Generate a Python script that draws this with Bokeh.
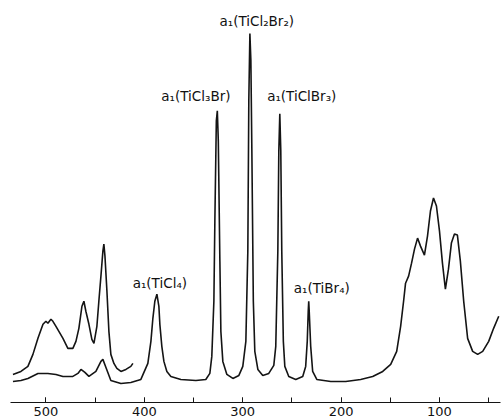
from bokeh.plotting import figure
from bokeh.models import Range1d, FixedTicker, ColumnDataSource
from bokeh.core.properties import value
from bokeh.embed import file_html
from bokeh.resources import INLINE

# Main Raman trace (wavenumber cm^-1, relative intensity)
main_wn = [533.5, 525.4, 518.3, 508.1, 498.0, 489.8, 482.7, 472.6, 467.5, 464.4,
           460.4, 456.3, 449.2, 444.1, 442.1, 439.0, 434.0, 423.8, 413.7, 403.5,
           396.4, 393.3, 391.3, 389.3, 387.2, 385.2, 384.2, 382.2, 380.1, 377.1,
           373.0, 362.9, 347.6, 337.5, 333.4, 331.4, 329.3, 328.3, 326.8, 325.8,
           324.8, 323.2, 322.2, 320.2, 316.1, 310.0, 303.9, 299.9, 296.8, 294.8,
           293.8, 292.7, 291.7, 290.7, 289.2, 287.7, 284.6, 279.6, 273.5, 268.4,
           266.4, 264.3, 263.3, 262.3, 261.3, 260.3, 258.7, 257.2, 253.2, 246.1,
           239.0, 236.0, 234.4, 233.4, 232.9, 232.4, 230.9, 228.9, 224.7, 210.5,
           195.3, 180.1, 167.9, 157.7, 149.6, 143.5, 139.5, 136.5, 134.5, 131.4,
           128.4, 125.4, 122.3, 119.3, 115.3, 112.2, 109.2, 106.1, 103.1, 100.0,
           97.0, 94.0, 90.9, 87.9, 84.8, 81.8, 78.8, 75.4, 71.4, 66.3,
           61.2, 56.1, 50.0, 45.0, 39.8]
main_int = [21, 22, 24, 29, 29, 28, 26, 26, 29, 33,
            30, 26, 31, 41, 43, 35, 22, 19, 20, 23,
            39, 61, 84, 101, 108, 96, 78, 56, 41, 31,
            26, 23, 22, 23, 29, 46, 101, 181, 281, 291,
            261, 141, 71, 41, 28, 24, 27, 36, 61, 151,
            301, 368, 341, 251, 101, 51, 33, 27, 29, 37,
            56, 151, 251, 288, 251, 151, 61, 36, 26, 23,
            26, 36, 61, 91, 101, 91, 56, 31, 23, 21,
            21, 23, 26, 31, 38, 51, 76, 101, 119, 126,
            139, 153, 164, 156, 147, 166, 191, 204, 196, 171,
            139, 113, 133, 159, 168, 167, 141, 101, 64, 51,
            48, 51, 61, 74, 86]

# Amplified trace of the high-wavenumber region
amp_wn = [533.5, 525.4, 518.3, 513.2, 508.1, 503.0, 500.0, 498.0, 494.9, 492.9,
          489.8, 482.7, 477.7, 472.6, 469.5, 466.5, 463.4, 461.4, 459.4, 456.3,
          453.3, 451.2, 448.2, 446.2, 444.1, 442.1, 441.1, 440.0, 438.0, 436.0,
          434.0, 430.9, 427.9, 423.8, 418.7, 413.7, 411.6]
amp_int = [28, 31, 36, 48, 64, 78, 81, 79, 83, 81,
           76, 64, 54, 54, 61, 74, 96, 101, 91, 78,
           63, 59, 76, 101, 126, 151, 158, 146, 111, 71,
           48, 39, 34, 31, 33, 36, 39]

# Peak labels
label_text = ["a\u2081(TiCl\u2082Br\u2082)", "a\u2081(TiCl\u2083Br)", "a\u2081(TiClBr\u2083)",
              "a\u2081(TiCl\u2084)", "a\u2081(TiBr\u2084)"]
label_wn = [285.7, 347.6, 240.0, 384.2, 219.6]
label_int = [381, 306, 306, 119, 114]

major_ticks = [500, 400, 300, 200, 100]
minor_ticks = [500, 450, 400, 350, 300, 250, 200, 150, 100, 50]

p = figure(width=504, height=418, output_backend="svg", toolbar_location=None,
           x_range=Range1d(536, 38), y_range=Range1d(0, 401),
           y_axis_location=None, min_border_left=10, min_border_right=4,
           min_border_top=0, min_border_bottom=0)
p.outline_line_color = None
p.xgrid.visible = False
p.ygrid.visible = False
p.background_fill_color = "white"

line_color = "#141414"
p.line(main_wn, main_int, line_color=line_color, line_width=1.6)
p.line(amp_wn, amp_int, line_color=line_color, line_width=1.6)

src = ColumnDataSource(dict(x=label_wn, y=label_int, t=label_text))
p.text(x="x", y="y", text="t", source=src, text_font=value("DejaVu Sans"),
       text_font_size="13.5px", text_align="center", text_baseline="middle",
       text_color="#111111")

ax = p.xaxis[0]
ax.ticker = FixedTicker(ticks=major_ticks, minor_ticks=minor_ticks)
ax.major_tick_in = 5
ax.major_tick_out = 0
ax.minor_tick_in = 5
ax.minor_tick_out = 0
ax.axis_line_width = 1.2
ax.axis_line_color = line_color
ax.major_tick_line_color = line_color
ax.minor_tick_line_color = line_color
ax.major_label_standoff = 4
ax.major_label_text_font = "DejaVu Sans"
ax.major_label_text_font_size = "13px"
ax.major_label_text_color = "#111111"

open("out.html", "w").write(file_html(p, INLINE))
